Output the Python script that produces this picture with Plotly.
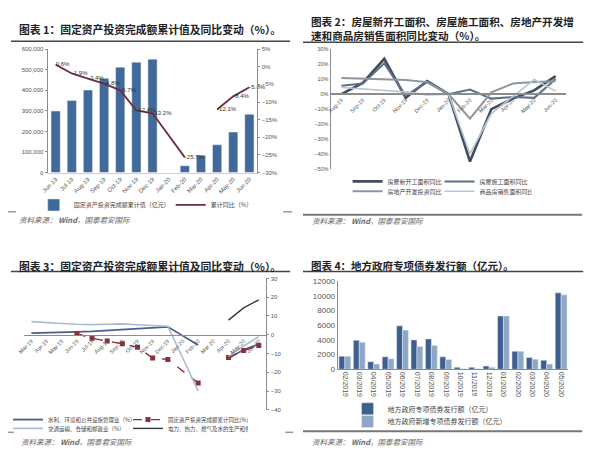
import plotly.graph_objects as go

W, H = 600, 453
def px(x): return x / W
def py(y): return 1 - y / H

FONT = "Noto Sans CJK SC"
TICKF = "Liberation Sans, Noto Sans CJK SC"

# ---------------- data ----------------
# Panel 1
months1 = ["Jun-19", "Jul-19", "Aug-19", "Sep-19", "Oct-19", "Nov-19", "Dec-19",
           "Jan-20", "Feb-20", "Mar-20", "Apr-20", "May-20", "Jun-20"]
fai_cum = [299000, 350000, 401000, 458000, 512000, 536000, 551000,
           None, 33000, 84000, 135000, 197000, 283000]
fai_yoy = [0.6, -1.9, -3.4, -4.8, -6.7, -12.4, -13.2, None, -25.7, None, -12.1, -8.4, -5.8]

# Panel 2
months2 = ["Aug-19", "Sep-19", "Oct-19", "Nov-19", "Dec-19", "Jan-20",
           "Feb-20", "Mar-20", "Apr-20", "May-20", "Jun-20"]
new_start = [0, 7.5, 23.5, -2.5, 8.7, 0, -44.9, -10, -3, 2.5, 12]
under_constr = [5.5, 7, 20.5, -1, 8, 0, 3, -3, -2, -2.5, 10]
re_invest = [10.8, 10.5, 10.0, 9.4, 8.0, 0, -16.3, 1.2, 7.0, 8.1, 8.5]
sales_area = [4.4, 3.5, 2.6, 1.5, -0.5, 0, -39.9, -13, -1.7, 9.7, 2.0]

# Panel 3
months3 = ["Mar-19", "Apr-19", "May-19", "Jun-19", "Jul-19", "Aug-19", "Sep-19", "Oct-19",
           "Nov-19", "Dec-19", "Jan-20", "Feb-20", "Mar-20", "Apr-20", "May-20", "Jun-20"]
water_env = [0.9, 1.0, 1.2, 1.5, 1.8, 2.2, 2.6, 3.0, 3.5, 4.2, None, -5.5, None, -12.5, -8.0, -5.0]
transport = [7.0, 6.7, 6.0, 5.6, 5.4, 5.6, 5.8, 5.3, 4.9, 4.5, None, -30.0, None, -11.5, -6.0, -1.0]
fai_yoy3 = [None, None, None, 0.6, -1.9, -3.4, -4.8, -6.7, -12.4, -13.2, None, -25.7, None, -12.1, -8.4, -5.8]
power = [None, None, None, None, None, None, None, None, None, None, None, None, None, 7.8, 14.3, 18.6]

# Panel 4
months4 = ["02/2019", "03/2019", "04/2019", "05/2019", "06/2019", "07/2019", "08/2019", "09/2019",
           "10/2019", "11/2019", "12/2019", "01/2020", "02/2020", "03/2020", "04/2020", "05/2020"]
special = [1780, 3950, 1020, 1690, 5910, 4000, 4130, 1690, 270, 270, 440, 7240, 2440, 1600, 1240, 10400]
new_special = [1780, 3690, 710, 1420, 5330, 3110, 3240, 1330, 90, 90, 270, 7240, 2440, 1380, 710, 10130]

# lines skip January 2020 (no data published) but break where a month is missing otherwise
def skip_jan(xs, ys):
    pts = [(x, y) for x, y in zip(xs, ys) if x != "Jan-20"]
    return [p[0] for p in pts], [p[1] for p in pts]

fig = go.Figure()

# ---------------- panel 1 ----------------
fig.add_trace(go.Bar(x=months1, y=fai_cum, name="固定资产投资完成额累计值（亿元）",
                     marker_color="#41699a", width=0.57, xaxis="x", yaxis="y", legend="legend"))
lx, ly = skip_jan(months1, fai_yoy)
fig.add_trace(go.Scatter(x=lx, y=ly, name="累计同比（%）", mode="lines+text",
                         text=["" if v is None else f"{v}%" for v in ly],
                         textposition="middle right", textfont=dict(size=6, color="#333", family=TICKF),
                         line=dict(color="#6e2d3a", width=1.8), connectgaps=False, cliponaxis=False,
                         xaxis="x", yaxis="y2", legend="legend"))

# ---------------- panel 2 ----------------
p2 = [("房屋新开工面积同比", new_start, "#414d5f", 2.6, "legend2"),
      ("房屋施工面积同比", under_constr, "#5e7088", 2.0, "legend2"),
      ("房地产开发投资同比", re_invest, "#8d969f", 2.0, "legend3"),
      ("商品房销售面积同比", sales_area, "#b9c6d3", 1.6, "legend3")]
for name, vals, col, w, lg in p2:
    fig.add_trace(go.Scatter(x=months2, y=vals, name=name, mode="lines",
                             line=dict(color=col, width=w), xaxis="x2", yaxis="y3", legend=lg))

# ---------------- panel 3 ----------------
x3, y3 = skip_jan(months3, water_env)
fig.add_trace(go.Scatter(x=x3, y=y3, name="水利、环境和公共设施管理业（%）", mode="lines",
                         line=dict(color="#4b5e8c", width=1.8), xaxis="x3", yaxis="y4", legend="legend4"))
x3, y3 = skip_jan(months3, fai_yoy3)
fig.add_trace(go.Scatter(x=x3, y=y3, name="固定资产投资完成额累计同比(%)", mode="lines+markers",
                         line=dict(color="#8a2f3c", width=1.4, dash="dash"),
                         marker=dict(symbol="square", size=5, color="#8a2f3c"),
                         xaxis="x3", yaxis="y4", legend="legend4"))
x3, y3 = skip_jan(months3, transport)
fig.add_trace(go.Scatter(x=x3, y=y3, name="交通运输、仓储和邮政业（%）", mode="lines",
                         line=dict(color="#a9bccd", width=1.6), xaxis="x3", yaxis="y4", legend="legend5"))
fig.add_trace(go.Scatter(x=months3, y=power, name="电力、热力、燃气及水的生产和供应业（%）", mode="lines",
                         line=dict(color="#3a3a3a", width=1.4), xaxis="x3", yaxis="y4", legend="legend5"))

# ---------------- panel 4 ----------------
fig.add_trace(go.Bar(x=months4, y=special, name="地方政府专项债券发行额（亿元）",
                     marker_color="#3f5f8f", xaxis="x4", yaxis="y5", legend="legend6"))
fig.add_trace(go.Bar(x=months4, y=new_special, name="地方政府新增专项债券发行额（亿元）",
                     marker_color="#8fa7c7", xaxis="x4", yaxis="y5", legend="legend7"))

# ---------------- axes ----------------
axc = "#8c8c8c"
tf = lambda s: dict(size=s, color="#555", family=TICKF)

d1x = [px(42), px(254)]; d1y = [py(172), py(46)]
d2x = [px(328), px(566)]; d2y = [py(168.5), py(46)]
d3x = [px(18), px(263)]; d3y = [py(414), py(280)]
d4x = [px(335), px(568)]; d4y = [py(372.7), py(282.7)]

r2 = [-50, 30]; r3 = [-40, 30]
zero2 = d2y[0] + (0 - r2[0]) / (r2[1] - r2[0]) * (d2y[1] - d2y[0])
zero3 = d3y[0] + (0 - r3[0]) / (r3[1] - r3[0]) * (d3y[1] - d3y[0])

common = dict(showgrid=False, zeroline=False)
fig.update_layout(
    xaxis=dict(domain=d1x, anchor="y", type="category", categoryorder="array", categoryarray=months1,
               range=[-0.5, len(months1) - 0.5], tickangle=-45, tickfont=tf(6), showline=True,
               linecolor="#cfcfcf", ticks="", **common),
    yaxis=dict(domain=d1y, anchor="x", range=[0, 600000], dtick=100000, tickformat=",",
               tickfont=tf(6), showline=True, linecolor=axc, ticks="outside", ticklen=2,
               tickcolor=axc, **common),
    yaxis2=dict(overlaying="y", side="right", anchor="x", range=[-30, 5], dtick=5, ticksuffix="%",
                tickfont=tf(6), showline=True, linecolor=axc, ticks="outside", ticklen=2,
                tickcolor=axc, **common),
    xaxis2=dict(domain=d2x, anchor="free", position=zero2, type="category", categoryorder="array",
                categoryarray=months2, range=[-0.5, len(months2) - 0.5], tickangle=-45,
                tickfont=tf(5.5), showline=True, linecolor=axc, linewidth=1.5, **common),
    yaxis3=dict(domain=d2y, anchor="x2", range=r2, dtick=10, ticksuffix="%", tickfont=tf(5.5),
                showline=True, linecolor=axc, linewidth=1.2, **common),
    xaxis3=dict(domain=d3x, anchor="free", position=zero3, type="category", categoryorder="array",
                categoryarray=months3, range=[-0.5, len(months3) - 0.5], tickangle=-45,
                tickfont=tf(5.5), showline=True, linecolor=axc, linewidth=1.2, **common),
    yaxis4=dict(domain=d3y, anchor="x3", side="right", range=r3, dtick=10, tickfont=tf(6),
                showline=True, linecolor=axc, linewidth=1.2, ticks="outside", ticklen=2,
                tickcolor=axc, **common),
    xaxis4=dict(domain=d4x, anchor="y5", type="category", tickangle=90, tickfont=tf(7),
                showline=True, linecolor=axc, **common),
    yaxis5=dict(domain=d4y, anchor="x4", range=[0, 12000], dtick=2000, tickformat="d",
                tickfont=tf(8), showline=True, linecolor=axc, **common),
    barmode="group", bargap=0.18,
    width=W, height=H, margin=dict(l=0, r=0, t=0, b=0),
    paper_bgcolor="white", plot_bgcolor="white",
    font=dict(family=FONT, color="#333"),
)

def leg(x, y, size, ew):
    return dict(orientation="h", x=px(x), y=py(y), xanchor="left", yanchor="middle",
                font=dict(size=size, family=FONT, color="#444"), bgcolor="rgba(0,0,0,0)",
                entrywidth=ew, entrywidthmode="pixels", itemwidth=30, tracegroupgap=0)

fig.update_layout(
    legend=leg(28, 205, 6, 92),
    legend2=leg(345, 181, 6, 47),
    legend3=leg(345, 191, 6, 47),
    legend4=leg(2, 424, 5.5, 75),
    legend5=leg(2, 433, 5.5, 75),
    legend6=leg(345, 413, 7, 120),
    legend7=leg(345, 426, 7, 120),
)

# ---------------- titles, rules, sources ----------------
def ann(text, x, y, size, color="#222", xanchor="left"):
    fig.add_annotation(text=text, x=px(x), y=py(y), xref="paper", yref="paper", showarrow=False,
                       xanchor=xanchor, yanchor="middle", align="left", borderpad=0,
                       font=dict(size=size, color=color, family=FONT))

ann("<b>图表 1：固定资产投资完成额累计值及同比变动（%）。</b>", 12, 26, 10.8)
ann("<b>图表 2：房屋新开工面积、房屋施工面积、房地产开发增</b><br>"
    "<b>速和商品房销售面积同比变动（%）。</b>", 307, 25.5, 10.6)
ann("<b>图表 3：固定资产投资完成额累计值及同比变动（%）。</b>", 12, 267, 10.8)
ann("<b>图表 4：地方政府专项债券发行额（亿元）。</b>", 307, 267, 10.5)

src = "<i>资料来源： <b>Wind</b>，国泰君安国际</i>"
ann(src, 12, 220, 7.5, "#666")
ann(src, 308, 221, 7.5, "#666")
ann(src, 14, 446, 7.5, "#666")
ann(src, 308, 446, 7.5, "#666")

def hline(x0, x1, y, color, w):
    fig.add_shape(type="line", xref="paper", yref="paper", x0=px(x0), x1=px(x1), y0=py(y), y1=py(y),
                  line=dict(color=color, width=w))

hline(5, 287, 38, "#444", 1.5)
hline(300, 583, 39, "#444", 1.5)
hline(5, 287, 273, "#444", 1.5)
hline(300, 583, 273, "#444", 1.5)
hline(300, 582, 215, "#777", 2)
hline(300, 582, 436, "#777", 2)
hline(2, 10, 212, "#999", 1.5)
hline(280, 289, 212, "#999", 1.5)
hline(2, 8, 437, "#999", 1.5)
hline(282, 290, 437, "#999", 1.5)

fig.write_html("out.html")
